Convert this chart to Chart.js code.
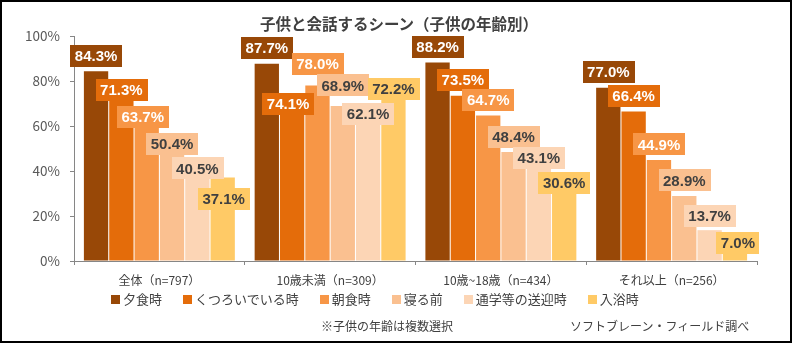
<!DOCTYPE html>
<html><head><meta charset="utf-8">
<script src="https://cdn.jsdelivr.net/npm/chart.js@4.4.1/dist/chart.umd.min.js"></script>
<style>
html,body{margin:0;padding:0;background:#fff;}
#wrap{position:relative;width:794px;height:344px;overflow:hidden;}
#frame{position:absolute;left:0;top:0;width:788px;height:339px;border:2px solid #000;pointer-events:none;}
.note{position:absolute;font-family:"Noto Sans CJK JP",sans-serif;font-size:12px;color:#404040;line-height:14px;white-space:nowrap;}
#title{position:absolute;left:0;width:798px;top:13px;text-align:center;font-family:"Noto Sans CJK JP",sans-serif;font-weight:bold;font-size:15.5px;line-height:20px;color:#404040;white-space:nowrap;}
#legend{position:absolute;left:111px;top:291px;display:flex;align-items:center;font-family:"Noto Sans CJK JP",sans-serif;font-size:13px;line-height:16px;color:#404040;white-space:nowrap;}
#legend .item{display:flex;align-items:center;margin-right:21px;}
#legend .item:last-child{margin-right:0;}
#legend .sw{width:9px;height:9px;margin-right:3px;}
</style></head>
<body><div id="wrap">
<canvas id="c" width="794" height="344"></canvas>
<div id="title"></div>
<div id="legend"></div>
<div class="note" style="left:321px;top:319px;">※子供の年齢は複数選択</div>
<div class="note" style="left:570px;top:319px;">ソフトブレーン・フィールド調べ</div>
<div id="frame"></div>
</div>
<script>
const titleText = '子供と会話するシーン（子供の年齢別）';
const categories = ['全体（n=797）','10歳未満（n=309）','10歳~18歳（n=434）','それ以上（n=256）'];
const seriesNames = ['夕食時','くつろいでいる時','朝食時','寝る前','通学等の送迎時','入浴時'];
const dinner = [84.3, 87.7, 88.2, 77.0];
const relaxing = [71.3, 74.1, 73.5, 66.4];
const breakfast = [63.7, 78.0, 64.7, 44.9];
const beforeBed = [50.4, 68.9, 48.4, 28.9];
const commute = [40.5, 62.1, 43.1, 13.7];
const bath = [37.1, 72.2, 30.6, 7.0];
const yTicks = [0, 20, 40, 60, 80, 100];

const seriesValues = [dinner, relaxing, breakfast, beforeBed, commute, bath];
const colors = ['#984807','#E46C0A','#F79646','#FAC090','#FCD5B5','#FFCA66'];
const labelTextColors = ['#ffffff','#ffffff','#ffffff','#404040','#404040','#404040'];
// manual label nudges [dx, dy] (style only)
const labelNudge = [
  [[0,0],[0,0],[0,0],[0,0]],
  [[0,5],[-4,25],[0,0],[0,0]],
  [[-4,15],[0,-6],[0,0],[0,0]],
  [[0,12],[0,-5],[0,0],[0,0]],
  [[0,14],[0,8],[0,9],[0,1]],
  [[1,37],[0,6],[0,6],[3,13]]
];

document.getElementById('title').textContent = titleText;
const lg = document.getElementById('legend');
seriesNames.forEach((name, k) => {
  const it = document.createElement('div'); it.className = 'item';
  const sw = document.createElement('div'); sw.className = 'sw'; sw.style.background = colors[k];
  const tx = document.createElement('span'); tx.textContent = name;
  it.appendChild(sw); it.appendChild(tx); lg.appendChild(it);
});

const boxLabels = {
  id:'boxLabels',
  afterDatasetsDraw(chart){
    const ctx = chart.ctx;
    ctx.save();
    ctx.font = 'bold 15px "Liberation Sans", Arial, sans-serif';
    ctx.textAlign = 'center';
    ctx.textBaseline = 'middle';
    chart.data.datasets.forEach((ds, di) => {
      const meta = chart.getDatasetMeta(di);
      meta.data.forEach((bar, i) => {
        const txt = ds.data[i].toFixed(1) + '%';
        const w = ctx.measureText(txt).width + 9;
        const h = 22;
        const n = labelNudge[di][i];
        const cx = bar.x + n[0];
        const cy = bar.y - 15.5 + n[1];
        ctx.fillStyle = colors[di];
        ctx.fillRect(Math.round(cx - w/2), Math.round(cy - h/2), Math.round(w), h);
        ctx.fillStyle = labelTextColors[di];
        ctx.fillText(txt, cx, cy + 1);
      });
    });
    ctx.restore();
  }
};

new Chart(document.getElementById('c'), {
  type:'bar',
  data:{
    labels: categories,
    datasets: seriesNames.map((name, k) => ({
      label: name,
      data: seriesValues[k],
      backgroundColor: colors[k],
      borderWidth: 0,
      categoryPercentage: 0.89,
      barPercentage: 0.96
    }))
  },
  options:{
    responsive:false,
    devicePixelRatio:1,
    animation:false,
    layout:{padding:{left:0,right:37,top:36,bottom:56}},
    plugins:{
      title:{display:false},
      legend:{display:false},
      tooltip:{enabled:false}
    },
    scales:{
      x:{
        grid:{display:true,drawOnChartArea:false,drawTicks:true,tickLength:4,color:'#868686',offset:true},
        border:{display:true,color:'#868686'},
        ticks:{color:'#404040',padding:8,font:{family:'"Noto Sans CJK JP", sans-serif',size:12}},
        afterFit(s){ s.height = 27; }
      },
      y:{
        min:0,max:100,
        afterBuildTicks(s){ s.ticks = yTicks.map(v => ({value:v})); },
        grid:{display:true,drawOnChartArea:false,drawTicks:true,tickLength:4,color:'#868686'},
        border:{display:true,color:'#868686'},
        ticks:{color:'#595959',padding:10,callback:v => v + '%',
          font:{family:'"Noto Sans CJK JP", sans-serif',size:13.5}},
        afterFit(s){ s.width = 74; }
      }
    }
  },
  plugins:[boxLabels]
});
</script>
</body></html>
